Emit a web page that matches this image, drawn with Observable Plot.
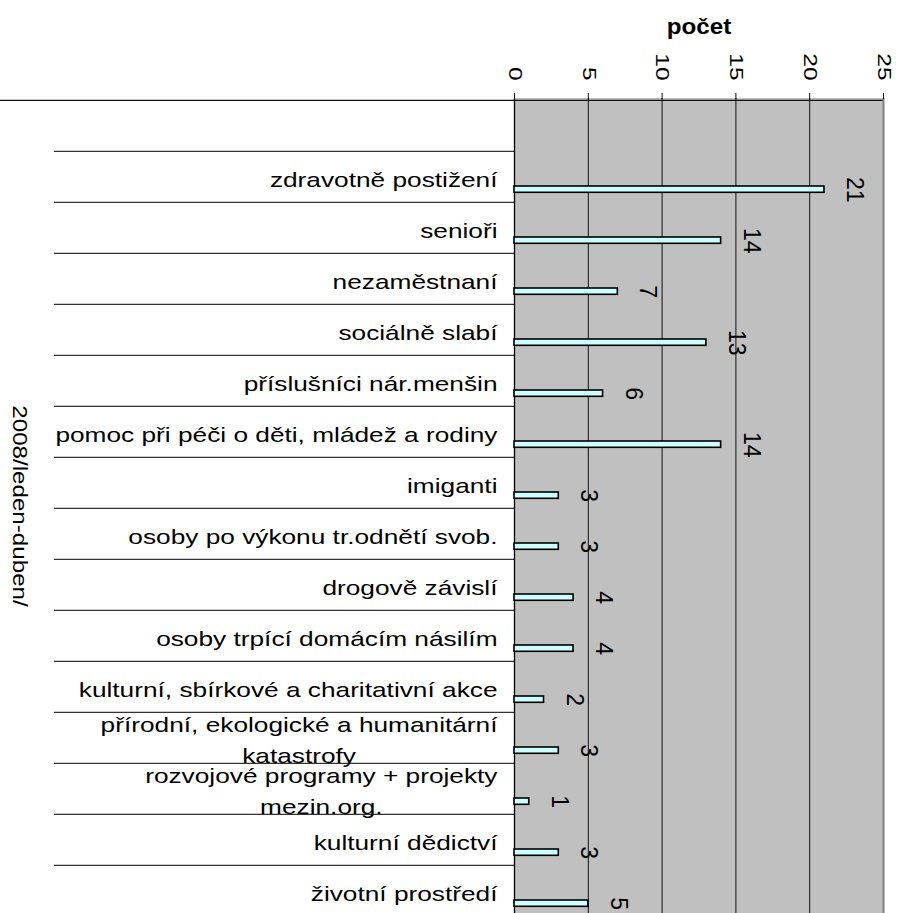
<!DOCTYPE html>
<html><head><meta charset="utf-8">
<script src="https://cdn.jsdelivr.net/npm/d3@7"></script>
<script src="https://cdn.jsdelivr.net/npm/@observablehq/plot@0.6"></script>
<style>
html,body{margin:0;padding:0;background:#fff;overflow:hidden}
#chart svg{display:block}
</style></head><body><div id="chart"></div>
<script>
const categories = [
  "zdravotně postižení",
  "senioři",
  "nezaměstnaní",
  "sociálně slabí",
  "příslušníci nár.menšin",
  "pomoc při péči o děti, mládež a rodiny",
  "imiganti",
  "osoby po výkonu tr.odnětí svob.",
  "drogově závislí",
  "osoby trpící domácím násilím",
  "kulturní, sbírkové a charitativní akce",
  "přírodní, ekologické a humanitární\nkatastrofy",
  "rozvojové programy + projekty\nmezin.org.",
  "kulturní dědictví",
  "životní prostředí"
];
const values = [21, 14, 7, 13, 6, 14, 3, 3, 4, 4, 2, 3, 1, 3, 5];
const xTicks = [0, 5, 10, 15, 20, 25];
const gridValues = [5, 10, 15, 20];
const xTitle = "počet";
const yTitle = "2008/leden-duben/";

const data = categories.map((c, i) => ({category: c, value: values[i]}));
const yDomain = ["", ...categories];
const xMin = xTicks[0], xMax = xTicks[xTicks.length - 1];

const W = 904, H = 913, plotTop = 98, plotLeft = 514, plotRight = 883, band = 51.27;

const svg = Plot.plot({
  width: W, height: H,
  marginTop: plotTop, marginLeft: 0, marginRight: 0, marginBottom: 0,
  x: {domain: [xMin, xMax], range: [plotLeft, plotRight], axis: null},
  y: {domain: yDomain, range: [plotTop, plotTop + band * yDomain.length], padding: 0, axis: null},
  style: {fontFamily: "'Liberation Sans', Arial, sans-serif", background: "white", color: "black", overflow: "hidden"},
  marks: [
    Plot.barX([0], {x1: () => xMin, x2: () => xMax, fill: "#c0c0c0"}),
    Plot.ruleY(categories, {y: d => d, dy: -band / 2, insetLeft: 54, insetRight: W - plotLeft, stroke: "#333", strokeWidth: 1.4}),
    Plot.ruleY([""], {y: d => d, dy: -band / 2, insetRight: W - plotRight, stroke: "#111", strokeWidth: 1.3}),
    Plot.ruleX(gridValues, {x: d => d, stroke: "#111", strokeWidth: 1}),
    Plot.ruleX([xMin], {x: d => d, stroke: "#000", strokeWidth: 1.3}),
    Plot.ruleX([xMax], {x: d => d, stroke: "#808080", strokeWidth: 2}),
    Plot.axisX({anchor: "top", ticks: xTicks, tickSize: 6, tickFormat: () => "", label: null, stroke: "#111"}),
    Plot.barX(data, {x: "value", y: "category", insetTop: 35, insetBottom: 9.7, fill: "#ccffff", stroke: "#000", strokeWidth: 1.6}),
    Plot.text(data, {x: "value", y: "category", text: d => String(d.value), rotate: 90, textAnchor: "middle", lineAnchor: "middle", dx: 30, dy: 12.7, fontSize: 23, fill: "#000"}),
    Plot.text(xTicks, {x: d => d, text: d => String(d), frameAnchor: "top", rotate: 90, textAnchor: "end", lineAnchor: "middle", dy: -18, fontSize: 17.5, fill: "#000"}),
    Plot.text(data, {x: () => xMin, y: "category", text: "category", textAnchor: "end", lineAnchor: "middle", dx: -17, fontSize: 21, lineHeight: 1.48, fill: "#000"}),
    Plot.text([yTitle], {frameAnchor: "left", text: d => d, rotate: 90, textAnchor: "middle", lineAnchor: "middle", dx: 19, fontSize: 21, fill: "#000"}),
    Plot.text([xTitle], {x: () => (xMin + xMax) / 2, text: d => d, frameAnchor: "top", textAnchor: "middle", lineAnchor: "middle", dy: -72, fontSize: 22, fontWeight: "bold", fill: "#000"})
  ]
});
document.getElementById("chart").appendChild(svg);

// Stretch of glyphs along the reading direction (as in the original rendering)
const factors = [1.0, 1.4, 1.25, 1.15, 1.1];
const groups = svg.querySelectorAll('g[aria-label="text"]');
groups.forEach((g, gi) => {
  const f = factors[gi] ?? 1;
  g.querySelectorAll("text").forEach(t => {
    const spans = t.querySelectorAll("tspan");
    if (spans.length) {
      const ws = Array.from(spans, s => s.getComputedTextLength());
      const maxW = Math.max(...ws);
      spans.forEach((s, i) => {
        s.setAttribute("textLength", ws[i] * f);
        s.setAttribute("lengthAdjust", "spacingAndGlyphs");
        s.setAttribute("x", -(maxW - ws[i]) * f / 2);
      });
    } else {
      const w = t.getComputedTextLength();
      if (f !== 1) {
        t.setAttribute("textLength", w * f);
        t.setAttribute("lengthAdjust", "spacingAndGlyphs");
      }
    }
  });
});
</script></body></html>
